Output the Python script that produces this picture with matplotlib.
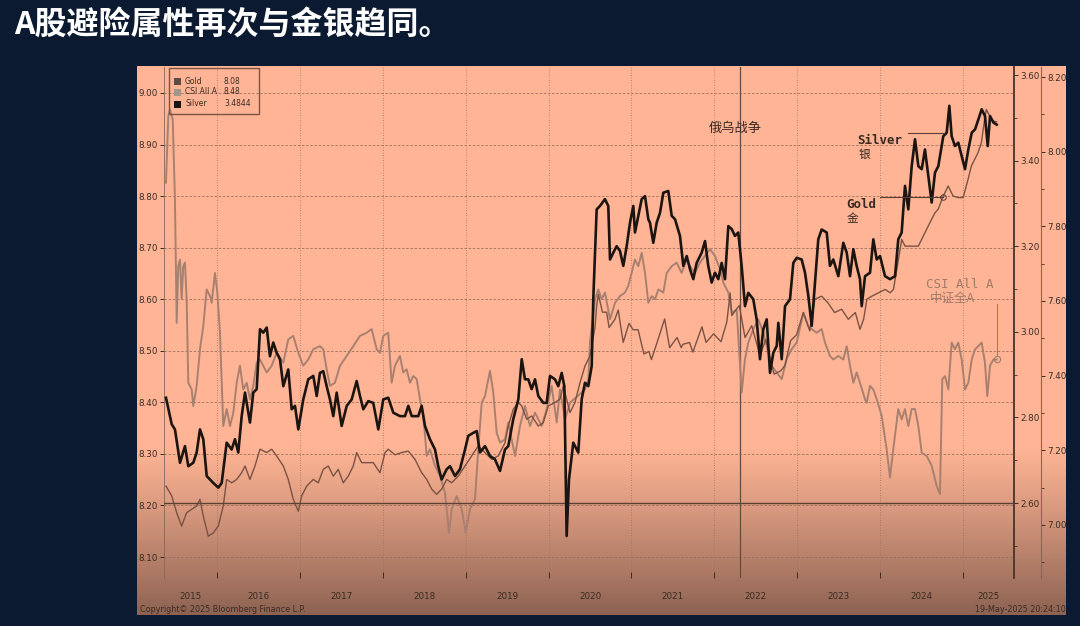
import numpy as np
import matplotlib
matplotlib.use('Agg')
import matplotlib.pyplot as plt
from matplotlib.patches import Rectangle
from matplotlib.lines import Line2D
from matplotlib.ticker import MultipleLocator, FormatStrFormatter

plt.rcParams['font.family'] = ['DejaVu Sans']

# ---------------- data (log values) ----------------
silver = [
    (2015.385, 2.846), (2015.454, 2.784), (2015.493, 2.772), (2015.554, 2.694), (2015.614, 2.733),
    (2015.654, 2.686), (2015.714, 2.694), (2015.755, 2.718), (2015.795, 2.772), (2015.835, 2.749),
    (2015.876, 2.663), (2015.955, 2.647), (2016.016, 2.636), (2016.057, 2.647), (2016.117, 2.741),
    (2016.177, 2.725), (2016.217, 2.749), (2016.257, 2.718), (2016.298, 2.803), (2016.338, 2.858),
    (2016.398, 2.788), (2016.438, 2.858), (2016.479, 2.866), (2016.519, 3.006), (2016.559, 2.998),
    (2016.600, 3.010), (2016.639, 2.943), (2016.679, 2.975), (2016.720, 2.951), (2016.760, 2.936),
    (2016.800, 2.873), (2016.860, 2.912), (2016.901, 2.819), (2016.941, 2.827), (2016.981, 2.772),
    (2017.041, 2.842), (2017.101, 2.889), (2017.162, 2.897), (2017.203, 2.850), (2017.242, 2.904),
    (2017.282, 2.908), (2017.323, 2.873), (2017.363, 2.842), (2017.403, 2.803), (2017.444, 2.858),
    (2017.504, 2.780), (2017.565, 2.827), (2017.625, 2.842), (2017.685, 2.885), (2017.725, 2.850),
    (2017.765, 2.819), (2017.825, 2.838), (2017.885, 2.834), (2017.946, 2.772), (2018.006, 2.842),
    (2018.066, 2.846), (2018.127, 2.811), (2018.207, 2.803), (2018.268, 2.803), (2018.308, 2.827),
    (2018.349, 2.803), (2018.428, 2.803), (2018.469, 2.827), (2018.509, 2.780), (2018.569, 2.749),
    (2018.630, 2.725), (2018.669, 2.686), (2018.710, 2.655), (2018.771, 2.679), (2018.811, 2.686),
    (2018.871, 2.663), (2018.931, 2.679), (2018.992, 2.725), (2019.031, 2.757), (2019.092, 2.764),
    (2019.133, 2.768), (2019.172, 2.718), (2019.233, 2.733), (2019.293, 2.710), (2019.353, 2.702),
    (2019.414, 2.675), (2019.474, 2.725), (2019.514, 2.733), (2019.574, 2.796), (2019.635, 2.842),
    (2019.676, 2.936), (2019.715, 2.889), (2019.755, 2.889), (2019.796, 2.866), (2019.836, 2.889),
    (2019.876, 2.850), (2019.936, 2.834), (2019.977, 2.834), (2020.017, 2.897), (2020.077, 2.889),
    (2020.117, 2.873), (2020.158, 2.904), (2020.190, 2.873), (2020.218, 2.523), (2020.246, 2.655),
    (2020.298, 2.741), (2020.358, 2.718), (2020.399, 2.842), (2020.439, 2.881), (2020.479, 2.873),
    (2020.520, 2.920), (2020.539, 3.076), (2020.580, 3.286), (2020.620, 3.294), (2020.680, 3.310),
    (2020.720, 3.294), (2020.741, 3.169), (2020.781, 3.185), (2020.821, 3.200), (2020.861, 3.189),
    (2020.901, 3.154), (2020.942, 3.200), (2020.982, 3.255), (2021.022, 3.294), (2021.042, 3.232),
    (2021.082, 3.271), (2021.123, 3.310), (2021.163, 3.317), (2021.203, 3.263), (2021.223, 3.255),
    (2021.263, 3.208), (2021.304, 3.255), (2021.344, 3.278), (2021.384, 3.325), (2021.444, 3.329),
    (2021.485, 3.271), (2021.525, 3.263), (2021.585, 3.224), (2021.625, 3.154), (2021.666, 3.177),
    (2021.706, 3.146), (2021.746, 3.123), (2021.786, 3.161), (2021.847, 3.185), (2021.887, 3.212),
    (2021.926, 3.154), (2021.967, 3.115), (2022.007, 3.138), (2022.047, 3.123), (2022.088, 3.161),
    (2022.128, 3.123), (2022.168, 3.247), (2022.209, 3.240), (2022.248, 3.224), (2022.288, 3.232),
    (2022.329, 3.154), (2022.369, 3.060), (2022.409, 3.091), (2022.469, 3.076), (2022.510, 3.029),
    (2022.550, 2.936), (2022.590, 3.006), (2022.631, 3.029), (2022.671, 2.904), (2022.711, 2.951),
    (2022.752, 2.967), (2022.771, 3.021), (2022.812, 2.936), (2022.852, 3.060), (2022.912, 3.076),
    (2022.952, 3.161), (2022.993, 3.173), (2023.053, 3.169), (2023.093, 3.138), (2023.133, 3.084),
    (2023.174, 3.014), (2023.213, 3.115), (2023.253, 3.216), (2023.294, 3.239), (2023.355, 3.232),
    (2023.394, 3.154), (2023.434, 3.169), (2023.495, 3.130), (2023.555, 3.208), (2023.596, 3.185),
    (2023.636, 3.130), (2023.676, 3.193), (2023.716, 3.154), (2023.756, 3.123), (2023.777, 3.060),
    (2023.817, 3.130), (2023.877, 3.138), (2023.917, 3.216), (2023.958, 3.169), (2023.998, 3.177),
    (2024.058, 3.130), (2024.118, 3.123), (2024.179, 3.130), (2024.218, 3.216), (2024.259, 3.232),
    (2024.299, 3.341), (2024.339, 3.286), (2024.380, 3.387), (2024.420, 3.450), (2024.460, 3.387),
    (2024.501, 3.380), (2024.540, 3.426), (2024.580, 3.364), (2024.621, 3.302), (2024.661, 3.372),
    (2024.701, 3.387), (2024.761, 3.457), (2024.802, 3.465), (2024.834, 3.528), (2024.862, 3.457),
    (2024.902, 3.434), (2024.942, 3.442), (2024.983, 3.411), (2025.023, 3.380), (2025.063, 3.426),
    (2025.104, 3.465), (2025.144, 3.473), (2025.184, 3.496), (2025.224, 3.520), (2025.264, 3.504),
    (2025.297, 3.434), (2025.325, 3.504), (2025.365, 3.489), (2025.405, 3.484),
]

csi_all_a = [
    (2015.385, 8.826), (2015.413, 8.955), (2015.433, 8.968), (2015.466, 8.949), (2015.493, 8.794),
    (2015.514, 8.554), (2015.533, 8.664), (2015.554, 8.677), (2015.574, 8.600), (2015.593, 8.664),
    (2015.614, 8.671), (2015.634, 8.600), (2015.654, 8.438), (2015.695, 8.425), (2015.714, 8.393),
    (2015.755, 8.432), (2015.795, 8.503), (2015.835, 8.548), (2015.876, 8.619), (2015.916, 8.606),
    (2015.936, 8.593), (2015.976, 8.651), (2016.004, 8.613), (2016.036, 8.535), (2016.076, 8.354),
    (2016.117, 8.387), (2016.157, 8.354), (2016.197, 8.380), (2016.238, 8.438), (2016.277, 8.471),
    (2016.317, 8.425), (2016.358, 8.438), (2016.398, 8.406), (2016.438, 8.432), (2016.479, 8.477),
    (2016.519, 8.483), (2016.600, 8.458), (2016.660, 8.471), (2016.720, 8.496), (2016.800, 8.477),
    (2016.860, 8.522), (2016.920, 8.529), (2016.981, 8.496), (2017.041, 8.471), (2017.101, 8.483),
    (2017.162, 8.503), (2017.242, 8.509), (2017.282, 8.503), (2017.323, 8.464), (2017.363, 8.432),
    (2017.423, 8.438), (2017.484, 8.471), (2017.565, 8.490), (2017.644, 8.509), (2017.725, 8.529),
    (2017.806, 8.535), (2017.866, 8.542), (2017.926, 8.503), (2017.966, 8.496), (2018.006, 8.529),
    (2018.066, 8.535), (2018.107, 8.438), (2018.147, 8.471), (2018.207, 8.490), (2018.247, 8.458),
    (2018.288, 8.464), (2018.328, 8.438), (2018.368, 8.451), (2018.409, 8.445), (2018.449, 8.406),
    (2018.489, 8.374), (2018.530, 8.296), (2018.569, 8.309), (2018.630, 8.277), (2018.690, 8.257),
    (2018.750, 8.225), (2018.799, 8.147), (2018.831, 8.193), (2018.891, 8.218), (2018.952, 8.193),
    (2019.000, 8.147), (2019.052, 8.193), (2019.112, 8.212), (2019.152, 8.309), (2019.193, 8.399),
    (2019.233, 8.412), (2019.293, 8.461), (2019.333, 8.419), (2019.374, 8.341), (2019.414, 8.322),
    (2019.474, 8.328), (2019.514, 8.361), (2019.595, 8.296), (2019.655, 8.354), (2019.715, 8.393),
    (2019.776, 8.354), (2019.836, 8.380), (2019.917, 8.354), (2019.977, 8.387), (2020.037, 8.432),
    (2020.098, 8.361), (2020.137, 8.425), (2020.198, 8.367), (2020.258, 8.399), (2020.298, 8.405),
    (2020.358, 8.413), (2020.439, 8.425), (2020.480, 8.445), (2020.499, 8.516), (2020.560, 8.600),
    (2020.600, 8.619), (2020.641, 8.600), (2020.680, 8.613), (2020.741, 8.561), (2020.801, 8.593),
    (2020.861, 8.606), (2020.922, 8.613), (2020.962, 8.626), (2021.002, 8.651), (2021.042, 8.677),
    (2021.082, 8.664), (2021.123, 8.690), (2021.163, 8.651), (2021.203, 8.593), (2021.244, 8.606),
    (2021.284, 8.600), (2021.324, 8.619), (2021.384, 8.613), (2021.425, 8.651), (2021.485, 8.664),
    (2021.545, 8.671), (2021.605, 8.651), (2021.666, 8.677), (2021.706, 8.664), (2021.766, 8.651),
    (2021.826, 8.671), (2021.887, 8.684), (2021.947, 8.697), (2022.007, 8.684), (2022.068, 8.658),
    (2022.108, 8.632), (2022.168, 8.613), (2022.209, 8.574), (2022.269, 8.580), (2022.329, 8.419),
    (2022.369, 8.484), (2022.409, 8.516), (2022.469, 8.542), (2022.530, 8.561), (2022.590, 8.535),
    (2022.650, 8.496), (2022.691, 8.471), (2022.752, 8.458), (2022.812, 8.445), (2022.872, 8.484),
    (2022.932, 8.503), (2022.993, 8.516), (2023.073, 8.574), (2023.133, 8.548), (2023.174, 8.542),
    (2023.234, 8.535), (2023.294, 8.542), (2023.334, 8.516), (2023.394, 8.490), (2023.434, 8.483),
    (2023.495, 8.490), (2023.555, 8.483), (2023.596, 8.509), (2023.636, 8.471), (2023.676, 8.438),
    (2023.716, 8.458), (2023.756, 8.438), (2023.817, 8.406), (2023.837, 8.399), (2023.877, 8.432),
    (2023.917, 8.425), (2023.958, 8.406), (2024.018, 8.374), (2024.078, 8.309), (2024.118, 8.254),
    (2024.158, 8.309), (2024.218, 8.387), (2024.259, 8.367), (2024.299, 8.387), (2024.339, 8.354),
    (2024.380, 8.387), (2024.420, 8.387), (2024.460, 8.354), (2024.501, 8.302), (2024.561, 8.296),
    (2024.621, 8.277), (2024.681, 8.238), (2024.721, 8.222), (2024.749, 8.445), (2024.782, 8.451),
    (2024.822, 8.425), (2024.862, 8.516), (2024.902, 8.503), (2024.942, 8.516), (2024.983, 8.483),
    (2025.023, 8.425), (2025.063, 8.438), (2025.104, 8.483), (2025.144, 8.503), (2025.184, 8.509),
    (2025.224, 8.516), (2025.264, 8.477), (2025.292, 8.412), (2025.325, 8.471), (2025.365, 8.483),
    (2025.405, 8.483),
]

gold = [
    (2015.385, 7.104), (2015.454, 7.078), (2015.514, 7.033), (2015.574, 6.997), (2015.634, 7.033),
    (2015.695, 7.042), (2015.755, 7.051), (2015.795, 7.069), (2015.835, 7.024), (2015.895, 6.970),
    (2015.955, 6.979), (2016.016, 6.997), (2016.076, 7.051), (2016.117, 7.122), (2016.177, 7.113),
    (2016.238, 7.122), (2016.298, 7.140), (2016.338, 7.158), (2016.398, 7.122), (2016.458, 7.158),
    (2016.519, 7.203), (2016.600, 7.194), (2016.660, 7.203), (2016.720, 7.185), (2016.800, 7.158),
    (2016.860, 7.122), (2016.920, 7.069), (2016.981, 7.037), (2017.022, 7.078), (2017.082, 7.104),
    (2017.162, 7.122), (2017.222, 7.113), (2017.282, 7.149), (2017.343, 7.158), (2017.403, 7.131),
    (2017.463, 7.149), (2017.523, 7.113), (2017.584, 7.131), (2017.644, 7.158), (2017.685, 7.194),
    (2017.745, 7.167), (2017.806, 7.167), (2017.885, 7.167), (2017.966, 7.140), (2018.027, 7.194),
    (2018.066, 7.203), (2018.147, 7.188), (2018.228, 7.194), (2018.308, 7.198), (2018.388, 7.176),
    (2018.469, 7.140), (2018.530, 7.122), (2018.590, 7.096), (2018.650, 7.082), (2018.710, 7.096),
    (2018.771, 7.122), (2018.831, 7.113), (2018.911, 7.131), (2018.992, 7.158), (2019.072, 7.185),
    (2019.152, 7.212), (2019.233, 7.194), (2019.314, 7.176), (2019.393, 7.185), (2019.474, 7.220),
    (2019.514, 7.265), (2019.574, 7.310), (2019.635, 7.328), (2019.676, 7.319), (2019.736, 7.283),
    (2019.796, 7.292), (2019.876, 7.265), (2019.936, 7.274), (2019.997, 7.319), (2020.077, 7.328),
    (2020.137, 7.337), (2020.177, 7.372), (2020.218, 7.337), (2020.258, 7.301), (2020.318, 7.328),
    (2020.379, 7.381), (2020.439, 7.426), (2020.499, 7.453), (2020.520, 7.478), (2020.560, 7.530),
    (2020.580, 7.588), (2020.600, 7.618), (2020.650, 7.570), (2020.700, 7.570), (2020.730, 7.529),
    (2020.800, 7.551), (2020.840, 7.576), (2020.900, 7.489), (2020.970, 7.540), (2021.020, 7.523),
    (2021.080, 7.523), (2021.150, 7.458), (2021.210, 7.465), (2021.240, 7.443), (2021.300, 7.483),
    (2021.400, 7.552), (2021.460, 7.475), (2021.550, 7.502), (2021.600, 7.475), (2021.620, 7.484),
    (2021.700, 7.489), (2021.740, 7.463), (2021.850, 7.531), (2021.900, 7.489), (2021.990, 7.512),
    (2022.080, 7.491), (2022.150, 7.544), (2022.190, 7.622), (2022.210, 7.561), (2022.300, 7.588),
    (2022.370, 7.502), (2022.450, 7.534), (2022.550, 7.454), (2022.620, 7.497), (2022.720, 7.404),
    (2022.800, 7.413), (2022.850, 7.427), (2022.920, 7.494), (2022.990, 7.509), (2023.073, 7.569),
    (2023.150, 7.520), (2023.213, 7.605), (2023.294, 7.613), (2023.370, 7.595), (2023.450, 7.569),
    (2023.535, 7.578), (2023.615, 7.551), (2023.700, 7.569), (2023.756, 7.524), (2023.800, 7.551),
    (2023.840, 7.605), (2023.900, 7.613), (2023.980, 7.622), (2024.060, 7.631), (2024.120, 7.622),
    (2024.160, 7.631), (2024.220, 7.712), (2024.260, 7.765), (2024.300, 7.747), (2024.380, 7.747),
    (2024.460, 7.747), (2024.500, 7.765), (2024.540, 7.783), (2024.600, 7.810), (2024.660, 7.836),
    (2024.700, 7.846), (2024.760, 7.881), (2024.820, 7.908), (2024.880, 7.881), (2024.940, 7.877),
    (2025.000, 7.877), (2025.060, 7.926), (2025.100, 7.962), (2025.180, 7.997), (2025.220, 8.024),
    (2025.260, 8.087), (2025.280, 8.113), (2025.320, 8.096), (2025.360, 8.082), (2025.405, 8.080),
]

year_labels = ['2015', '2016', '2017', '2018', '2019', '2020', '2021', '2022', '2023', '2024', '2025']
legend_rows = [('Gold', '8.08'), ('CSI All A', '8.48'), ('Silver', '3.4844')]

# ---------------- styling ----------------
W, H = 1080, 626
def fx(x): return x / W
def fy(y): return 1 - y / H

NAVY = '#0b1a30'
INK = '#3b2a22'
GRID = '#9c6f5e'
C_SILVER = '#1c1410'
C_GOLD = '#7a5244'
C_CSI = '#a9806f'
CJK = ['Noto Sans CJK SC', 'DejaVu Sans']

fig = plt.figure(figsize=(10.8, 6.26), dpi=100)
fig.patch.set_facecolor(NAVY)

fig.text(fx(14), fy(25), 'A股避险属性再次与金银趋同。', family=CJK, fontsize=23,
         fontweight='bold', color='white', va='center', ha='left')

# salmon panel fading to brown at the bottom
p_top, p_bot = 66, 615
rows = p_bot - p_top
top_c = np.array([255, 181, 149]) / 255.
bot_c = np.array([140, 98, 82]) / 255.
yy = np.arange(rows) + p_top
t = np.clip((yy - 445) / (p_bot - 445), 0, 1) ** 1.1
grad = top_c[None, :] * (1 - t[:, None]) + bot_c[None, :] * t[:, None]
bg = fig.add_axes([fx(137), fy(p_bot), (1066 - 137) / W, rows / H])
bg.imshow(grad[:, None, :], aspect='auto', extent=[0, 1, 0, 1], origin='upper')
bg.axis('off')

# main axes
ax = fig.add_axes([fx(164), fy(578), (1014 - 164) / W, (578 - 67) / H])
ax.set_facecolor('none')
ax_g = ax.twinx()
ax_s = ax.twinx()

ax.set_xlim(2015.361, 2025.614)
ax.set_ylim(8.0593, 9.0504)
ax_s.set_ylim(2.4248, 3.6187)
ax_g.set_ylim(6.858, 8.2268)
ax_g.spines['right'].set_position(('axes', 1 + 27 / 850))

ct, cv = zip(*csi_all_a)
gt, gv = zip(*gold)
st, sv = zip(*silver)
ax.plot(ct, cv, color=C_CSI, lw=1.4, zorder=3)
ax_g.plot(gt, gv, color=C_GOLD, lw=1.0, zorder=3)
ax_s.plot(st, sv, color=C_SILVER, lw=1.9, zorder=3)

ax_s.axhline(2.60, color='#5e4034', lw=1.0)
ax.axvline(2022.31, color='#6a4a3e', lw=0.9)

# y axes
ax.yaxis.set_major_locator(MultipleLocator(0.1))
ax.yaxis.set_major_formatter(FormatStrFormatter('%.2f'))
for a in (ax_s, ax_g):
    a.yaxis.set_major_locator(MultipleLocator(0.2))
    a.yaxis.set_minor_locator(MultipleLocator(0.1))
    a.yaxis.set_major_formatter(FormatStrFormatter('%.2f'))
    a.tick_params(axis='y', which='major', labelsize=6.3, colors=INK, length=3, width=0.7, pad=1.5)
    a.tick_params(axis='y', which='minor', length=2, width=0.6, color=INK)
    for s in ('left', 'top', 'bottom'):
        a.spines[s].set_visible(False)
ax.tick_params(axis='y', labelsize=6.3, colors=INK, length=3, width=0.7, pad=1.5)

ax_s.spines['right'].set_color('#4a3228')
ax_s.spines['right'].set_linewidth(1.3)
ax_g.spines['right'].set_color('#8a6658')
ax_g.spines['right'].set_linewidth(0.8)
ax.spines['left'].set_color('#8a6658')
ax.spines['left'].set_linewidth(0.6)
for s in ('top', 'right', 'bottom'):
    ax.spines[s].set_visible(False)

# x axis: year boundaries ticked, year names centred in each year
ax.set_xticks(range(2016, 2026))
ax.set_xticklabels([])
lo, hi = ax.get_xlim()
edges = [lo] + list(range(2016, 2026)) + [hi]
centres = [(edges[i] + edges[i + 1]) / 2 for i in range(len(edges) - 1)]
ax.set_xticks(centres, minor=True)
ax.set_xticklabels(year_labels, minor=True)
ax.tick_params(axis='x', which='major', direction='in', length=4, width=0.7, color=INK)
ax.tick_params(axis='x', which='minor', length=0, labelsize=6.3, labelcolor=INK, pad=10)

ax.grid(axis='y', which='major', ls=(0, (3, 2)), color=GRID, lw=0.6)
ax.grid(axis='x', which='major', ls=(0, (1, 2)), color=GRID, lw=0.6)
ax.set_axisbelow(True)

# legend box
fig.add_artist(Rectangle((fx(169), fy(114)), 90 / W, 46 / H, transform=fig.transFigure,
                         fill=False, edgecolor='#7a5545', lw=1.0))
for (name, val), yrow, col in zip(legend_rows, (81, 92, 104), ('#5e4a44', '#a8928a', '#1a1412')):
    fig.add_artist(Rectangle((fx(174), fy(yrow + 3.5)), 7 / W, 7 / H, transform=fig.transFigure,
                             facecolor=col, edgecolor='none'))
    fig.text(fx(185), fy(yrow), name, fontsize=5.5, color=INK, va='center')
    fig.text(fx(224), fy(yrow), val, fontsize=5.5, color=INK, va='center')

# annotations
ann = '#5a3e33'
fig.add_artist(Line2D([fx(908), fx(943)], [fy(133), fy(133)], color=ann, lw=0.8))
fig.add_artist(Line2D([fx(880), fx(943)], [fy(197), fy(197)], color=ann, lw=0.8))
fig.add_artist(Line2D([fx(943)], [fy(197)], marker='o', ms=4, mfc='none', mec=ann, mew=0.7))
fig.add_artist(Line2D([fx(997), fx(997)], [fy(304), fy(355)], color='#a07a6a', lw=0.8))
fig.add_artist(Line2D([fx(997)], [fy(359)], marker='o', ms=4.5, mfc='none', mec='#a07a6a', mew=0.8))

fig.text(fx(857), fy(140), 'Silver', family='DejaVu Sans Mono', fontweight='bold',
         fontsize=9, color=INK, va='center')
fig.text(fx(859), fy(154), '银', family=CJK, fontsize=8.5, color=INK, va='center')
fig.text(fx(846), fy(205), 'Gold', family='DejaVu Sans Mono', fontweight='bold',
         fontsize=9, color=INK, va='center')
fig.text(fx(847), fy(219), '金', family=CJK, fontsize=8.5, color=INK, va='center')
fig.text(fx(926), fy(284), 'CSI All A', family='DejaVu Sans Mono', fontsize=9,
         color='#a07a6a', va='center')
fig.text(fx(930), fy(298), '中证全A', family=CJK, fontsize=9, color='#a07a6a', va='center')
fig.text(fx(709), fy(128), '俄乌战争', family=CJK, fontsize=9.5, color=INK, va='center')

# footer
fig.text(fx(140), fy(609), 'Copyright\u00a9 2025 Bloomberg Finance L.P.', fontsize=5.8,
         color=INK, va='center')
fig.text(fx(1066), fy(609), '19-May-2025 20:24:10', fontsize=5.8, color=INK,
         va='center', ha='right')

fig.savefig('out.png', dpi=100, facecolor=NAVY)
